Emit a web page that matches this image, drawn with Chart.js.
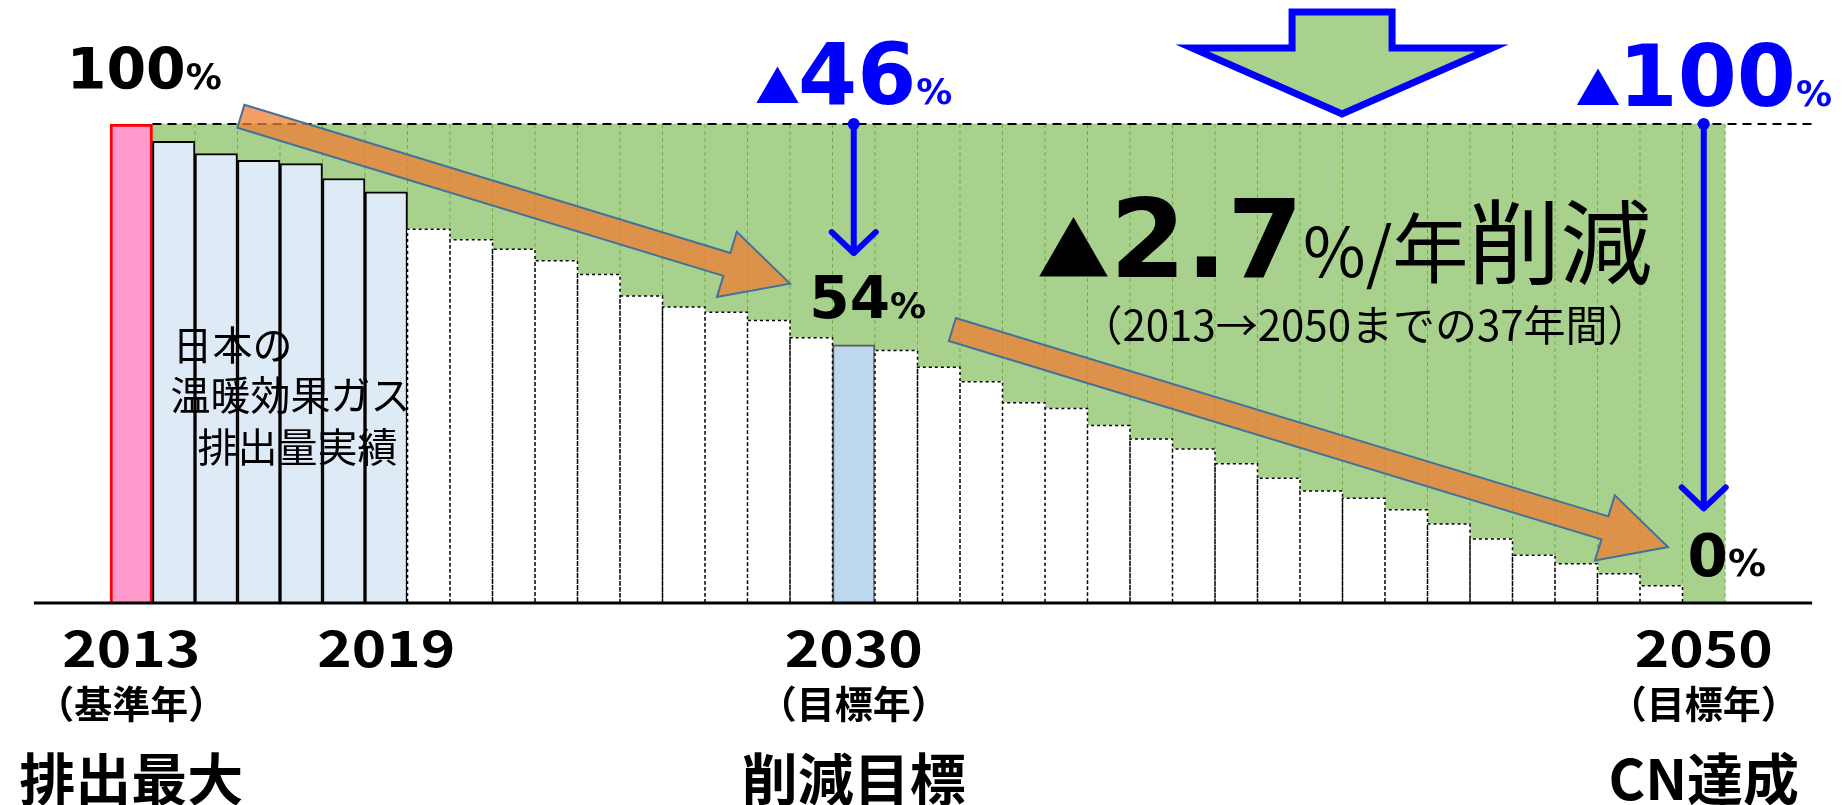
<!DOCTYPE html>
<html>
<head>
<meta charset="utf-8">
<script src="https://cdn.jsdelivr.net/npm/chart.js@4.4.1/dist/chart.umd.min.js"></script>
<style>
  html, body { margin: 0; padding: 0; background: #fff; overflow: hidden; }
  canvas { display: block; }
</style>
</head>
<body>
<canvas id="chart" width="1842" height="805"></canvas>
<script>
// years 2013 .. 2050
const YEARS = [
  '2013', '2014', '2015', '2016', '2017', '2018', '2019', '2020', '2021', '2022',
  '2023', '2024', '2025', '2026', '2027', '2028', '2029', '2030', '2031', '2032',
  '2033', '2034', '2035', '2036', '2037', '2038', '2039', '2040', '2041', '2042',
  '2043', '2044', '2045', '2046', '2047', '2048', '2049', '2050'
];
// emissions, % of 2013
const EMISSIONS = [
  100, 96.4, 93.8, 92.4, 91.7, 88.6, 85.8, 78.0, 75.8, 73.8,
  71.4, 68.5, 64.0, 61.7, 60.6, 58.9, 55.3, 53.8, 52.6, 49.1,
  46.1, 41.7, 40.5, 36.9, 34.1, 32.0, 28.9, 25.9, 23.2, 21.7,
  19.3, 16.3, 13.2, 9.8, 8.0, 5.9, 3.4, 0
];
const BASE_LEVEL = 100;
const BASE_YEAR = '2013';
const ACTUAL_YEARS = ['2014', '2015', '2016', '2017', '2018', '2019'];
const TARGET_YEAR = '2030';
const CN_YEAR = '2050';
const TICK_YEARS = ['2013', '2019', '2030', '2050'];
const TICK_SUB = { '2013': '（基準年）', '2030': '（目標年）', '2050': '（目標年）' };
const TICK_NOTE = { '2013': '排出最大', '2030': '削減目標', '2050': 'CN達成' };

const GREEN = '#A9D18E';
const GREEN_LINE = '#70AD47';
const BLUE = '#0000FF';
const NUM = '"DejaVu Sans", sans-serif';
const JP = '"Noto Sans CJK JP", sans-serif';

function barFill(y) {
  if (y === BASE_YEAR) return '#FF99CC';
  if (ACTUAL_YEARS.includes(y)) return '#DEEBF7';
  if (y === TARGET_YEAR) return '#BDD7EE';
  return '#FFFFFF';
}
function barBorder(y) {
  if (y === BASE_YEAR) return '#FF0000';
  if (y === TARGET_YEAR) return '#595959';
  return '#000000';
}
function barBorderWidth(y) {
  if (y === BASE_YEAR) return 3;
  if (ACTUAL_YEARS.includes(y) || y === TARGET_YEAR) return 2;
  return 0; // dashed outline drawn by plugin
}

function run(ctx, parts, x, base, align) {
  const widths = parts.map(p => { ctx.font = p.font; return ctx.measureText(p.t).width + (p.gap || 0); });
  const total = widths.reduce((a, b) => a + b, 0);
  let cx = align === 'center' ? x - total / 2 : x;
  ctx.textAlign = 'left';
  ctx.textBaseline = 'alphabetic';
  parts.forEach((p, k) => {
    ctx.font = p.font;
    ctx.fillStyle = p.color;
    ctx.fillText(p.t, cx, base + (p.dy || 0));
    cx += widths[k];
  });
}

function label(ctx, txt, cx, base, font, sx) {
  ctx.save();
  ctx.font = font;
  ctx.fillStyle = '#000';
  ctx.textAlign = 'center';
  ctx.textBaseline = 'alphabetic';
  ctx.translate(cx, base);
  ctx.scale(sx, 1);
  ctx.fillText(txt, 0, 0);
  ctx.restore();
}

function fatArrow(ctx, x1, y1, x2, y2, shaft, headW, headL) {
  const dx = x2 - x1, dy = y2 - y1, len = Math.hypot(dx, dy);
  const ux = dx / len, uy = dy / len, px = -uy, py = ux;
  const bx = x2 - ux * headL, by = y2 - uy * headL;
  const pts = [
    [x1 + px * shaft / 2, y1 + py * shaft / 2],
    [bx + px * shaft / 2, by + py * shaft / 2],
    [bx + px * headW / 2, by + py * headW / 2],
    [x2, y2],
    [bx - px * headW / 2, by - py * headW / 2],
    [bx - px * shaft / 2, by - py * shaft / 2],
    [x1 - px * shaft / 2, y1 - py * shaft / 2]
  ];
  ctx.beginPath();
  pts.forEach((p, i) => i ? ctx.lineTo(p[0], p[1]) : ctx.moveTo(p[0], p[1]));
  ctx.closePath();
  ctx.fillStyle = 'rgba(237,125,49,0.75)';
  ctx.fill();
  ctx.strokeStyle = '#41719C';
  ctx.lineWidth = 2;
  ctx.lineJoin = 'miter';
  ctx.stroke();
}

function blueDrop(ctx, x, yTop, yTip) {
  ctx.strokeStyle = BLUE;
  ctx.fillStyle = BLUE;
  ctx.lineWidth = 6;
  ctx.lineCap = 'round';
  ctx.lineJoin = 'round';
  ctx.beginPath();
  ctx.moveTo(x, yTop);
  ctx.lineTo(x, yTip);
  ctx.moveTo(x - 22, yTip - 21);
  ctx.lineTo(x, yTip);
  ctx.lineTo(x + 22, yTip - 21);
  ctx.stroke();
  ctx.beginPath();
  ctx.arc(x, yTop, 6, 0, Math.PI * 2);
  ctx.fill();
}

const overlay = {
  id: 'overlay',
  afterDatasetsDraw(chart) {
    const ctx = chart.ctx;
    const xs = chart.scales.x, ys = chart.scales.y;
    const bars = chart.getDatasetMeta(0).data;
    const y100 = ys.getPixelForValue(BASE_LEVEL), y0 = ys.getPixelForValue(0);
    ctx.save();

    // dashed green separators in the reduction area
    ctx.strokeStyle = GREEN_LINE;
    ctx.lineWidth = 1;
    ctx.setLineDash([4, 3]);
    ctx.beginPath();
    for (let i = 2; i < bars.length; i++) {
      const l = bars[i].x - bars[i].width / 2;
      ctx.moveTo(l, y100);
      ctx.lineTo(l, Math.min(bars[i].y, bars[i - 1].y));
    }
    const last = bars[bars.length - 1];
    ctx.moveTo(last.x + last.width / 2, y100);
    ctx.lineTo(last.x + last.width / 2, y0);
    ctx.stroke();

    // dashed outline of projected bars
    ctx.strokeStyle = '#000';
    ctx.lineWidth = 1.5;
    ctx.setLineDash([3, 3]);
    ctx.beginPath();
    YEARS.forEach((yr, i) => {
      if (barBorderWidth(yr) > 0 || EMISSIONS[i] <= 0) return;
      const b = bars[i], l = b.x - b.width / 2, r = b.x + b.width / 2;
      ctx.moveTo(l, y0);
      ctx.lineTo(l, b.y);
      ctx.lineTo(r, b.y);
      ctx.lineTo(r, y0);
    });
    ctx.stroke();

    // 100% reference line
    ctx.lineWidth = 2;
    ctx.setLineDash([9, 6]);
    ctx.beginPath();
    ctx.moveTo(bars[0].x + bars[0].width / 2, y100);
    ctx.lineTo(xs.getPixelForValue(39.55), y100);
    ctx.stroke();

    // x axis line
    ctx.setLineDash([]);
    ctx.lineWidth = 3;
    ctx.beginPath();
    ctx.moveTo(xs.getPixelForValue(-2.29), y0 + 1);
    ctx.lineTo(xs.getPixelForValue(39.55), y0 + 1);
    ctx.stroke();

    // orange trend arrows
    fatArrow(ctx, xs.getPixelForValue(2.58), ys.getPixelForValue(101.6),
      xs.getPixelForValue(15.5), ys.getPixelForValue(66.6), 24, 68, 66);
    fatArrow(ctx, xs.getPixelForValue(19.32), ys.getPixelForValue(57.0),
      xs.getPixelForValue(36.16), ys.getPixelForValue(11.5), 24, 68, 66);

    // blue drop arrows
    const xT = xs.getPixelForValue(YEARS.indexOf(TARGET_YEAR));
    const xC = xs.getPixelForValue(YEARS.indexOf(CN_YEAR));
    blueDrop(ctx, xT, y100, ys.getPixelForValue(73));
    blueDrop(ctx, xC, y100, ys.getPixelForValue(19.6));

    // big hollow arrow at top
    const ax = xs.getPixelForValue(28.49);
    ctx.beginPath();
    ctx.moveTo(ax - 50, y100 - 112);
    ctx.lineTo(ax + 50, y100 - 112);
    ctx.lineTo(ax + 50, y100 - 76);
    ctx.lineTo(ax + 150, y100 - 76);
    ctx.lineTo(ax, y100 - 10);
    ctx.lineTo(ax - 150, y100 - 76);
    ctx.lineTo(ax - 50, y100 - 76);
    ctx.closePath();
    ctx.fillStyle = GREEN;
    ctx.fill();
    ctx.strokeStyle = BLUE;
    ctx.lineWidth = 7;
    ctx.lineJoin = 'miter';
    ctx.stroke();

    // value callouts
    const x0 = xs.getPixelForValue(0);
    run(ctx, [
      { t: '100', font: 'bold 57px ' + NUM, color: '#000' },
      { t: '%', font: 'bold 36px ' + NUM, color: '#000' }
    ], x0 + 13, y100 - 35, 'center');
    run(ctx, [
      { t: '▲', font: 'bold 45px ' + JP, color: BLUE, gap: -2 },
      { t: '46', font: 'bold 85px ' + NUM, color: BLUE },
      { t: '%', font: 'bold 36px ' + NUM, color: BLUE }
    ], xT, y100 - 20, 'center');
    run(ctx, [
      { t: '▲', font: 'bold 45px ' + JP, color: BLUE, gap: -2 },
      { t: '100', font: 'bold 85px ' + NUM, color: BLUE },
      { t: '%', font: 'bold 36px ' + NUM, color: BLUE }
    ], xC, y100 - 18, 'center');
    run(ctx, [
      { t: '54', font: 'bold 58px ' + NUM, color: '#000' },
      { t: '%', font: 'bold 36px ' + NUM, color: '#000' }
    ], xT + 14, ys.getPixelForValue(59.4), 'center');
    run(ctx, [
      { t: '0', font: 'bold 58px ' + NUM, color: '#000' },
      { t: '%', font: 'bold 38px ' + NUM, color: '#000' }
    ], xC + 23, ys.getPixelForValue(5.4), 'center');

    // reduction rate
    run(ctx, [
      { t: '▲', font: 'bold 73px ' + JP, color: '#000' },
      { t: '2.7', font: 'bold 109px ' + NUM, color: '#000' },
      { t: '%/', font: '68px ' + JP, color: '#000' },
      { t: '年', font: '76px ' + JP, color: '#000' },
      { t: '削減', font: '92px ' + JP, color: '#000' }
    ], xs.getPixelForValue(21.31), ys.getPixelForValue(68.0), 'left');
    run(ctx, [
      { t: '（2013→2050までの37年間）', font: '42px ' + JP, color: '#000' }
    ], xs.getPixelForValue(29.03), ys.getPixelForValue(54.5), 'center');

    // note on actual emissions
    const xa = bars[1].x - bars[1].width / 2;
    run(ctx, [{ t: '日本の', font: '40px ' + JP, color: '#000' }], xa + 20, y100 + 236, 'left');
    run(ctx, [{ t: '温暖効果ガス', font: '40px ' + JP, color: '#000' }], xa + 18, y100 + 286, 'left');
    run(ctx, [{ t: '排出量実績', font: '40px ' + JP, color: '#000' }], xa + 45, y100 + 338, 'left');

    // x tick labels
    TICK_YEARS.forEach(yr => {
      const cx = xs.getPixelForValue(YEARS.indexOf(yr));
      label(ctx, yr, cx, y0 + 65, 'bold 50px ' + JP, 1.17);
      if (TICK_SUB[yr]) label(ctx, TICK_SUB[yr], cx, y0 + 116, 'bold 38px ' + JP, 1.0);
      if (TICK_NOTE[yr]) label(ctx, TICK_NOTE[yr], cx, y0 + 198, 'bold 56px ' + JP, 1.0);
    });

    ctx.restore();
  }
};

new Chart(document.getElementById('chart'), {
  type: 'bar',
  data: {
    labels: YEARS,
    datasets: [
      {
        label: '排出量',
        data: EMISSIONS,
        backgroundColor: YEARS.map(barFill),
        borderColor: YEARS.map(barBorder),
        borderWidth: YEARS.map(barBorderWidth),
        borderSkipped: 'bottom',
        grouped: false,
        barPercentage: 1,
        categoryPercentage: 1,
        clip: false
      },
      {
        label: '削減',
        data: YEARS.map(y => y === BASE_YEAR ? null : BASE_LEVEL),
        backgroundColor: GREEN,
        borderWidth: 0,
        grouped: false,
        barPercentage: 1,
        categoryPercentage: 1,
        clip: false
      }
    ]
  },
  options: {
    responsive: false,
    animation: false,
    layout: { padding: { left: 110, right: 117, top: 124, bottom: 203 } },
    scales: {
      x: { display: false },
      y: { display: false, min: 0, max: BASE_LEVEL }
    },
    plugins: {
      legend: { display: false },
      tooltip: { enabled: false }
    }
  },
  plugins: [overlay]
});
</script>
</body>
</html>
